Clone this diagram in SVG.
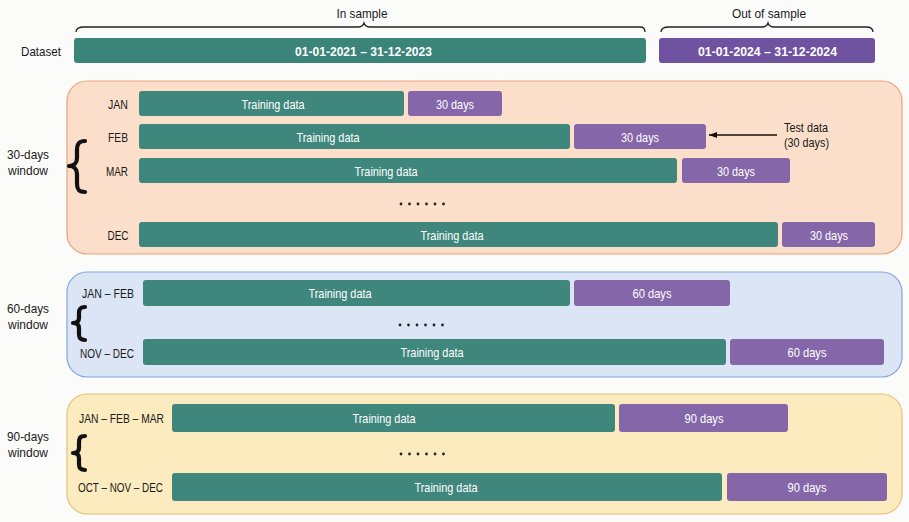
<svg xmlns="http://www.w3.org/2000/svg" width="909" height="522" viewBox="0 0 909 522">
<style>
text{font-family:"Liberation Sans",Arial,sans-serif;}
.lbl{font-size:13.5px;fill:#1a1a1a;}
.w{font-size:13.5px;fill:#ffffff;text-anchor:middle;}
.wb{font-size:13.5px;fill:#ffffff;text-anchor:middle;font-weight:bold;}
.mid{text-anchor:middle;}
.tr{fill:#3f877c;}
.te{fill:#8567a9;}
.brace{fill:none;stroke:#111;stroke-width:4.2;stroke-linecap:round;stroke-linejoin:round;}
.tbrace{fill:none;stroke:#222;stroke-width:1.3;}
.dot{fill:#222;}
</style>
<defs>
<marker id="ah" markerWidth="9" markerHeight="8" refX="8" refY="4" orient="auto" markerUnits="userSpaceOnUse">
<path d="M0,1 L8,4 L0,7 Z" fill="#111"/>
</marker>
</defs>
<rect width="909" height="522" fill="#fbfbfa"/>

<g id="header">
<text class="lbl mid" x="362" y="17.5" textLength="51" lengthAdjust="spacingAndGlyphs">In sample</text>
<text class="lbl mid" x="769" y="17.5" textLength="74" lengthAdjust="spacingAndGlyphs">Out of sample</text>
<path class="tbrace" d="M76,32 C76,28 79,27 84,27 L358,27 C361,27 363,26 364,23 C365,26 367,27 370,27 L640,27 C643,27 645,28 645,32"/>
<path class="tbrace" d="M661,32 C661,28 664,27 669,27 L762,27 C765,27 767,26 768,23 C769,26 771,27 774,27 L866,27 C869,27 873,28 873,32"/>
</g>

<g id="dataset">
<text class="lbl mid" x="41" y="55.5" textLength="40" lengthAdjust="spacingAndGlyphs">Dataset</text>
<rect x="74" y="38" width="572" height="25" rx="3" fill="#3a8479"/>
<text class="wb" x="363.5" y="55.5" textLength="137" lengthAdjust="spacingAndGlyphs">01-01-2021 – 31-12-2023</text>
<rect x="659" y="38" width="216" height="25" rx="3" fill="#7053a0"/>
<text class="wb" x="767.5" y="55.5" textLength="139" lengthAdjust="spacingAndGlyphs">01-01-2024 – 31-12-2024</text>
</g>

<g id="window30">
<rect x="67" y="81" width="835" height="173" rx="20" fill="#fbdfca" stroke="#e9a27c" stroke-width="1.2"/>
<text class="lbl mid" x="28" y="159" textLength="42" lengthAdjust="spacingAndGlyphs">30-days</text>
<text class="lbl mid" x="28" y="174.5" textLength="40" lengthAdjust="spacingAndGlyphs">window</text>
<path class="brace" d="M85,141 C79,141 77,144 77,150 L77,158 C77,163 74,166 69,166 C74,166 77,169 77,174 L77,184 C77,190 79,192 85,192"/>
<text class="lbl mid" x="118" y="108.5" textLength="20" lengthAdjust="spacingAndGlyphs">JAN</text>
<rect class="tr" x="139" y="91" width="265" height="25" rx="3"/>
<text class="w" x="273" y="108.5" textLength="63" lengthAdjust="spacingAndGlyphs">Training data</text>
<rect class="te" x="408" y="91" width="94" height="25" rx="3"/>
<text class="w" x="455" y="108.5" textLength="38" lengthAdjust="spacingAndGlyphs">30 days</text>

<text class="lbl mid" x="118" y="141.5" textLength="20" lengthAdjust="spacingAndGlyphs">FEB</text>
<rect class="tr" x="139" y="124" width="431" height="25" rx="3"/>
<text class="w" x="328" y="141.5" textLength="63" lengthAdjust="spacingAndGlyphs">Training data</text>
<rect class="te" x="574" y="124" width="132" height="25" rx="3"/>
<text class="w" x="640" y="141.5" textLength="38" lengthAdjust="spacingAndGlyphs">30 days</text>

<text class="lbl mid" x="117" y="175.5" textLength="22" lengthAdjust="spacingAndGlyphs">MAR</text>
<rect class="tr" x="139" y="158" width="538" height="25" rx="3"/>
<text class="w" x="386" y="175.5" textLength="63" lengthAdjust="spacingAndGlyphs">Training data</text>
<rect class="te" x="682" y="158" width="108" height="25" rx="3"/>
<text class="w" x="736" y="175.5" textLength="38" lengthAdjust="spacingAndGlyphs">30 days</text>

<g class="dot"><circle cx="401" cy="204" r="1.4"/><circle cx="409.5" cy="204" r="1.4"/><circle cx="418" cy="204" r="1.4"/><circle cx="426.5" cy="204" r="1.4"/><circle cx="435" cy="204" r="1.4"/><circle cx="443.5" cy="204" r="1.4"/></g>

<text class="lbl mid" x="118" y="239.5" textLength="21" lengthAdjust="spacingAndGlyphs">DEC</text>
<rect class="tr" x="139" y="222" width="639" height="25" rx="3"/>
<text class="w" x="452" y="239.5" textLength="63" lengthAdjust="spacingAndGlyphs">Training data</text>
<rect class="te" x="782" y="222" width="93" height="25" rx="3"/>
<text class="w" x="829" y="239.5" textLength="38" lengthAdjust="spacingAndGlyphs">30 days</text>
</g>

<g id="testlabel">
<text class="lbl" x="784" y="132" textLength="44" lengthAdjust="spacingAndGlyphs">Test data</text>
<text class="lbl" x="784" y="147" textLength="45" lengthAdjust="spacingAndGlyphs">(30 days)</text>
</g>

<g id="connectors">
<line x1="777" y1="135" x2="709" y2="135" stroke="#111" stroke-width="1.3" marker-end="url(#ah)"/>
</g>

<g id="window60">
<rect x="67" y="272" width="835" height="105" rx="20" fill="#dbe5f6" stroke="#7fa5d8" stroke-width="1.2"/>
<text class="lbl mid" x="28" y="313" textLength="42" lengthAdjust="spacingAndGlyphs">60-days</text>
<text class="lbl mid" x="28" y="329" textLength="40" lengthAdjust="spacingAndGlyphs">window</text>
<path class="brace" d="M85,307 C80,307 79,309 79,313 L79,318 C79,321 77,323 73,323 C77,323 79,325 79,328 L79,334 C79,338 80,340 85,340"/>
<text class="lbl mid" x="108" y="297.5" textLength="52" lengthAdjust="spacingAndGlyphs">JAN – FEB</text>
<rect class="tr" x="143" y="280" width="427" height="26" rx="3"/>
<text class="w" x="340" y="298" textLength="63" lengthAdjust="spacingAndGlyphs">Training data</text>
<rect class="te" x="574" y="280" width="156" height="26" rx="3"/>
<text class="w" x="652" y="298" textLength="39" lengthAdjust="spacingAndGlyphs">60 days</text>

<g class="dot"><circle cx="400" cy="325" r="1.4"/><circle cx="408.5" cy="325" r="1.4"/><circle cx="417" cy="325" r="1.4"/><circle cx="425.5" cy="325" r="1.4"/><circle cx="434" cy="325" r="1.4"/><circle cx="442.5" cy="325" r="1.4"/></g>

<text class="lbl mid" x="107" y="357.5" textLength="54" lengthAdjust="spacingAndGlyphs">NOV – DEC</text>
<rect class="tr" x="143" y="339" width="583" height="26" rx="3"/>
<text class="w" x="432" y="357" textLength="63" lengthAdjust="spacingAndGlyphs">Training data</text>
<rect class="te" x="730" y="339" width="154" height="26" rx="3"/>
<text class="w" x="807" y="357" textLength="39" lengthAdjust="spacingAndGlyphs">60 days</text>
</g>

<g id="window90">
<rect x="67" y="394" width="835" height="120" rx="20" fill="#fbebbf" stroke="#e6c27c" stroke-width="1.2"/>
<text class="lbl mid" x="28" y="441" textLength="42" lengthAdjust="spacingAndGlyphs">90-days</text>
<text class="lbl mid" x="28" y="456.5" textLength="40" lengthAdjust="spacingAndGlyphs">window</text>
<path class="brace" d="M85,436 C80,436 79,438 79,443 L79,448 C79,451 77,453 73,453 C77,453 79,455 79,458 L79,464 C79,468 80,470 85,470"/>
<text class="lbl mid" x="121.5" y="423" textLength="85" lengthAdjust="spacingAndGlyphs">JAN – FEB – MAR</text>
<rect class="tr" x="172" y="404" width="443" height="28" rx="3"/>
<text class="w" x="384" y="423" textLength="63" lengthAdjust="spacingAndGlyphs">Training data</text>
<rect class="te" x="619" y="404" width="169" height="28" rx="3"/>
<text class="w" x="704" y="423" textLength="39" lengthAdjust="spacingAndGlyphs">90 days</text>

<g class="dot"><circle cx="401" cy="454" r="1.4"/><circle cx="409.5" cy="454" r="1.4"/><circle cx="418" cy="454" r="1.4"/><circle cx="426.5" cy="454" r="1.4"/><circle cx="435" cy="454" r="1.4"/><circle cx="443.5" cy="454" r="1.4"/></g>

<text class="lbl mid" x="120.5" y="492" textLength="85" lengthAdjust="spacingAndGlyphs">OCT – NOV – DEC</text>
<rect class="tr" x="172" y="473" width="550" height="28" rx="3"/>
<text class="w" x="446" y="492" textLength="63" lengthAdjust="spacingAndGlyphs">Training data</text>
<rect class="te" x="727" y="473" width="160" height="28" rx="3"/>
<text class="w" x="807" y="492" textLength="39" lengthAdjust="spacingAndGlyphs">90 days</text>
</g>
</svg>
